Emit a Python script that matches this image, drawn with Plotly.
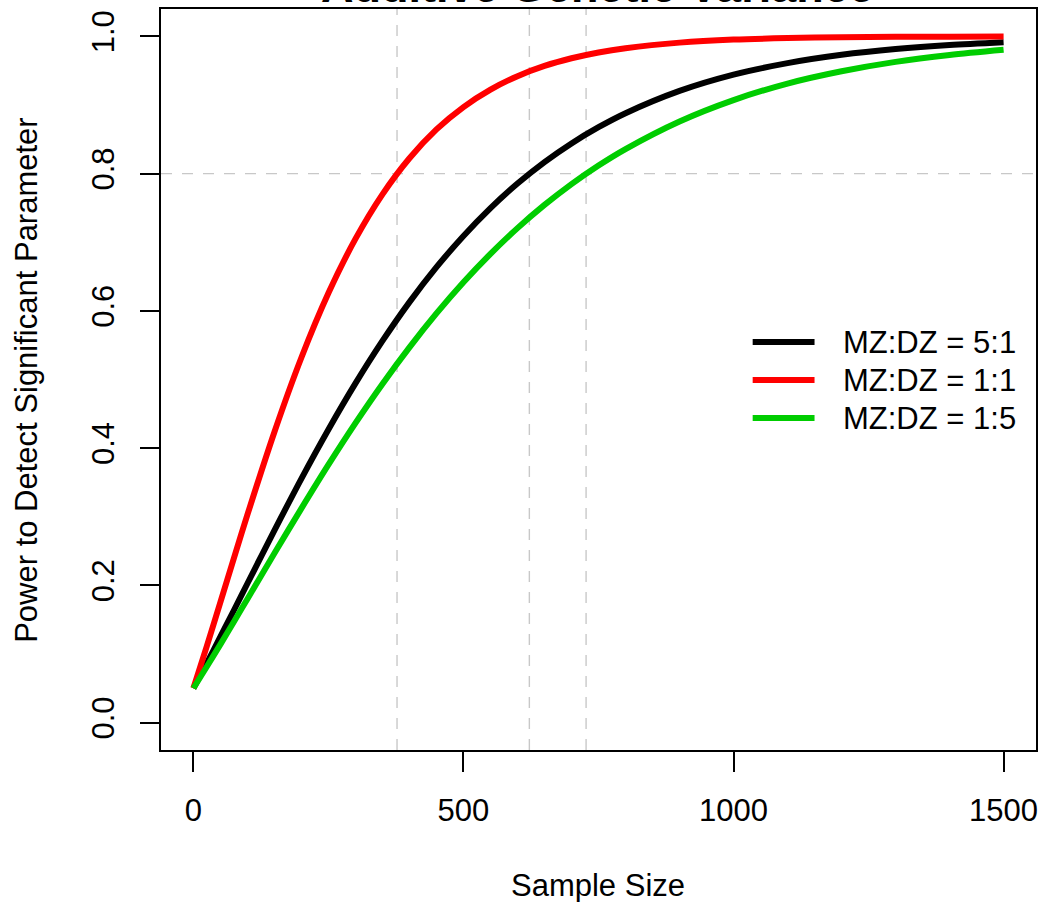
import plotly.graph_objects as go

sample_size = [0, 25, 50, 75, 100, 150, 200, 250, 300, 350, 400, 450, 500,
               550, 600, 650, 700, 750, 800, 900, 1000, 1100, 1200, 1300, 1400, 1500]

power_5_1 = [0.050, 0.0869, 0.1251, 0.1637, 0.2027, 0.2801, 0.3556, 0.4272, 0.4943,
             0.5562, 0.6128, 0.6637, 0.7092, 0.7498, 0.7856, 0.8169, 0.8441, 0.8677,
             0.8881, 0.9206, 0.9443, 0.9611, 0.9732, 0.9816, 0.9875, 0.9916]

power_1_1 = [0.050, 0.1117, 0.1754, 0.2396, 0.3030, 0.4236, 0.5321, 0.6260, 0.7049,
             0.7699, 0.8225, 0.8645, 0.8971, 0.9225, 0.9421, 0.9570, 0.9682, 0.9767,
             0.9829, 0.9910, 0.9954, 0.9976, 0.9988, 0.9994, 0.9997, 0.9999]

power_1_5 = [0.050, 0.0817, 0.1140, 0.1470, 0.1802, 0.2467, 0.3122, 0.3759, 0.4365,
             0.4936, 0.5469, 0.5963, 0.6417, 0.6831, 0.7206, 0.7544, 0.7848, 0.8119,
             0.8359, 0.8761, 0.9073, 0.9313, 0.9492, 0.9629, 0.9729, 0.9805]

series_names = ["MZ:DZ = 5:1", "MZ:DZ = 1:1", "MZ:DZ = 1:5"]
series_values = [power_5_1, power_1_1, power_1_5]
series_colors = ["#000000", "#FF0000", "#00CD00"]

# reference lines: N where power reaches 0.8, and the 0.8 power level
n_at_80 = [377, 622, 727]
power_level = [0.8]

x_ticks = [0, 500, 1000, 1500]
y_ticks = [0.0, 0.2, 0.4, 0.6, 0.8, 1.0]
y_tick_text = ["0.0", "0.2", "0.4", "0.6", "0.8", "1.0"]

title_text = "Additive Genetic Variance"
x_title = "Sample Size"
y_title = "Power to Detect Significant Parameter"

FONT = "Liberation Sans, Arial, Helvetica, sans-serif"
FS = 31

fig = go.Figure()
for name, vals, col in zip(series_names, series_values, series_colors):
    fig.add_trace(go.Scatter(
        x=sample_size, y=vals, mode="lines", name=name,
        line=dict(color=col, width=6, shape="spline", smoothing=0.8),
        showlegend=False, hoverinfo="skip"))

shapes = []
for n in n_at_80:
    shapes.append(dict(type="line", xref="x", yref="paper", x0=n, x1=n, y0=0, y1=1,
                       line=dict(color="#C8C8C8", width=1.4, dash="11px,10px"), layer="below"))
for p in power_level:
    shapes.append(dict(type="line", xref="paper", yref="y", x0=0, x1=1, y0=p, y1=p,
                       line=dict(color="#C8C8C8", width=1.4, dash="11px,10px"), layer="below"))

# manual legend (R style)
leg_y = [0.5506, 0.4993, 0.4480]
annotations = []
for name, col, ly in zip(series_names, series_colors, leg_y):
    shapes.append(dict(type="line", xref="paper", yref="paper", x0=0.6762, x1=0.7469,
                       y0=ly, y1=ly, line=dict(color=col, width=6)))
    annotations.append(dict(xref="paper", yref="paper", x=0.7777, y=ly, xanchor="left",
                            yanchor="middle", text=name, showarrow=False,
                            font=dict(family=FONT, size=FS, color="black")))

annotations.append(dict(xref="paper", yref="paper", x=0.4994, y=1.0300, xanchor="center",
                        yanchor="middle", text="<b>" + title_text + "</b>", showarrow=False,
                        font=dict(family=FONT, size=45, color="black")))
annotations.append(dict(xref="paper", yref="paper", x=0.4994, y=-0.1835, xanchor="center",
                        yanchor="middle", text=x_title, showarrow=False,
                        font=dict(family=FONT, size=FS, color="black")))
annotations.append(dict(xref="paper", yref="paper", x=-0.1539, y=0.5, xanchor="center",
                        yanchor="middle", text=y_title, textangle=-90, showarrow=False,
                        font=dict(family=FONT, size=FS, color="black")))

fig.update_layout(
    width=1041, height=902,
    margin=dict(l=161, r=3, t=9, b=152),
    paper_bgcolor="white", plot_bgcolor="white",
    font=dict(family=FONT, size=FS, color="black"),
    shapes=shapes, annotations=annotations,
    showlegend=False,
)
fig.update_xaxes(range=[-60, 1560], tickvals=x_ticks, ticks="outside", ticklen=20,
                 tickwidth=1.5, tickcolor="black", showline=True, linecolor="black",
                 linewidth=1.5, mirror=True, showgrid=False, zeroline=False,
                 ticklabelstandoff=12,
                 tickfont=dict(family=FONT, size=FS))
fig.update_yaxes(range=[-0.04, 1.04], tickvals=y_ticks, ticktext=y_tick_text,
                 ticks="outside", ticklen=19, tickwidth=1.5, tickcolor="black",
                 tickangle=-90, showline=True, linecolor="black", linewidth=1.5,
                 mirror=True, showgrid=False, zeroline=False,
                 ticklabelstandoff=14,
                 tickfont=dict(family=FONT, size=FS))

fig.write_html("out.html", config={"displayModeBar": False},
               post_script="document.body.style.margin='0px';")
